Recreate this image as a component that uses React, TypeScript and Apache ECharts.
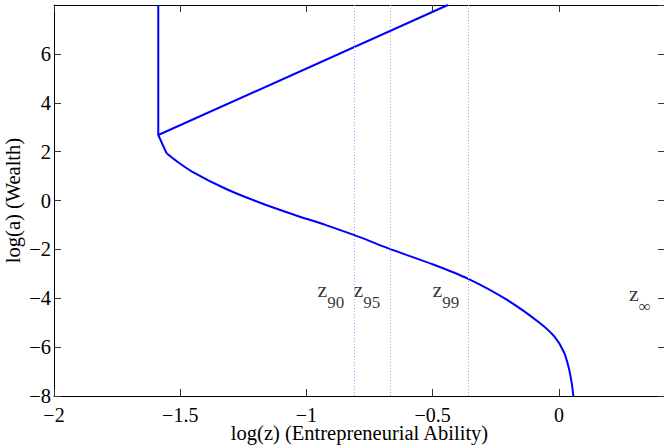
import React, { useEffect, useRef } from "react";
import * as echarts from "echarts";

// Vertical segment and the corner of the policy branch (log z, log a)
const cornerZ = [-1.587, -1.587, -1.554];
const cornerA = [8, 2.68, 1.93];
// Smooth lower branch
const branchZ = [-1.554, -1.521, -1.448, -1.316, -1.184, -1.052, -0.92, -0.789, -0.67, -0.498, -0.359, -0.207, -0.076, -0.017, 0.019, 0.038, 0.05, 0.057];
const branchA = [1.93, 1.66, 1.15, 0.46, -0.09, -0.57, -1.02, -1.5, -1.98, -2.62, -3.21, -4.06, -5.01, -5.58, -6.19, -6.81, -7.43, -8];
// Upper straight branch
const upperZ = [-1.587, -0.44];
const upperA = [2.68, 8];
// Percentile thresholds
const pctNames = ["90", "95", "99"];
const pctZ = [-0.815, -0.672, -0.359];
const infZ = 0.4;
const labelA = -3.65;
const infLabelA = -3.82;

const FONT = "'Liberation Serif', 'Times New Roman', serif";
const minus = (v: number) => String(v).replace("-", "\u2212");

export default function App() {
  const ref = useRef<HTMLDivElement>(null);
  useEffect(() => {
    if (!ref.current) return;
    const chart = echarts.init(ref.current, undefined, { renderer: "svg" });
    const axisCommon = {
      type: "value" as const,
      splitLine: { show: false },
      axisLine: { show: true, onZero: false, lineStyle: { color: "#000", width: 1 } },
      axisTick: { show: true, inside: true, length: 7, lineStyle: { color: "#333" } },
    };
    const rich = {
      z: { fontSize: 22, fontFamily: FONT, color: "#000", lineHeight: 22, verticalAlign: "top" },
      s: { fontSize: 17, fontFamily: FONT, color: "#000", lineHeight: 17, verticalAlign: "top", padding: [15, 0, 0, 0] },
    };
    const blue = { color: "#0000ff", width: 2 };
    chart.setOption({
      animation: false,
      grid: { left: 54, top: 5, bottom: 52, right: 2, containLabel: false, outerBoundsMode: "none" },
      xAxis: [
        {
          ...axisCommon,
          position: "bottom",
          min: -2,
          max: 0.42,
          interval: 0.5,
          name: "log(z) (Entrepreneurial Ability)",
          nameLocation: "middle",
          nameGap: 26,
          nameMoveOverlap: false,
          nameTextStyle: { fontSize: 20.5, fontFamily: FONT, color: "#000" },
          axisLabel: { fontSize: 20, fontFamily: FONT, color: "#000", margin: 9, showMaxLabel: false, formatter: (v: number) => minus(v) },
        },
        {
          ...axisCommon,
          position: "top",
          min: -2,
          max: 0.42,
          interval: 0.5,
          axisLabel: { show: false },
        },
      ],
      yAxis: [
        {
          ...axisCommon,
          position: "left",
          min: -8,
          max: 8,
          interval: 2,
          name: "log(a) (Wealth)",
          nameLocation: "middle",
          nameGap: 31,
          nameMoveOverlap: false,
          nameTextStyle: { fontSize: 20.5, fontFamily: FONT, color: "#000" },
          axisLabel: { fontSize: 20.5, fontFamily: FONT, color: "#000", margin: 3, showMaxLabel: false, formatter: (v: number) => minus(v) },
        },
        {
          ...axisCommon,
          position: "right",
          min: -8,
          max: 8,
          interval: 2,
          axisLabel: { show: false },
        },
      ],
      series: [
        {
          type: "line",
          data: cornerZ.map((z, i) => [z, cornerA[i]]),
          symbol: "none",
          lineStyle: blue,
          z: 3,
        },
        {
          type: "line",
          data: branchZ.map((z, i) => [z, branchA[i]]),
          symbol: "none",
          smooth: 0.3,
          lineStyle: blue,
          z: 3,
        },
        {
          type: "line",
          data: upperZ.map((z, i) => [z, upperA[i]]),
          symbol: "none",
          lineStyle: blue,
          z: 3,
          markLine: {
            silent: true,
            symbol: ["none", "none"],
            label: { show: false },
            lineStyle: { type: [1, 2], color: "#9d9dff", width: 1 },
            data: pctZ.map((v) => ({ xAxis: v })),
          },
        },
        {
          type: "scatter",
          symbolSize: 0,
          silent: true,
          data: [
            ...pctZ.map((z, i) => ({ value: [z, labelA], name: pctNames[i] })),
            { value: [infZ, infLabelA], name: "\u221e" },
          ],
          label: {
            show: true,
            position: "left",
            distance: 9,
            formatter: (p: any) => `{z|z}{s|${p.name}}`,
            rich,
          },
        },
      ],
    });
    return () => chart.dispose();
  }, []);
  return (
    <div
      ref={ref}
      style={{ position: "fixed", left: 0, top: 0, width: 667, height: 448, background: "#fff" }}
    />
  );
}
